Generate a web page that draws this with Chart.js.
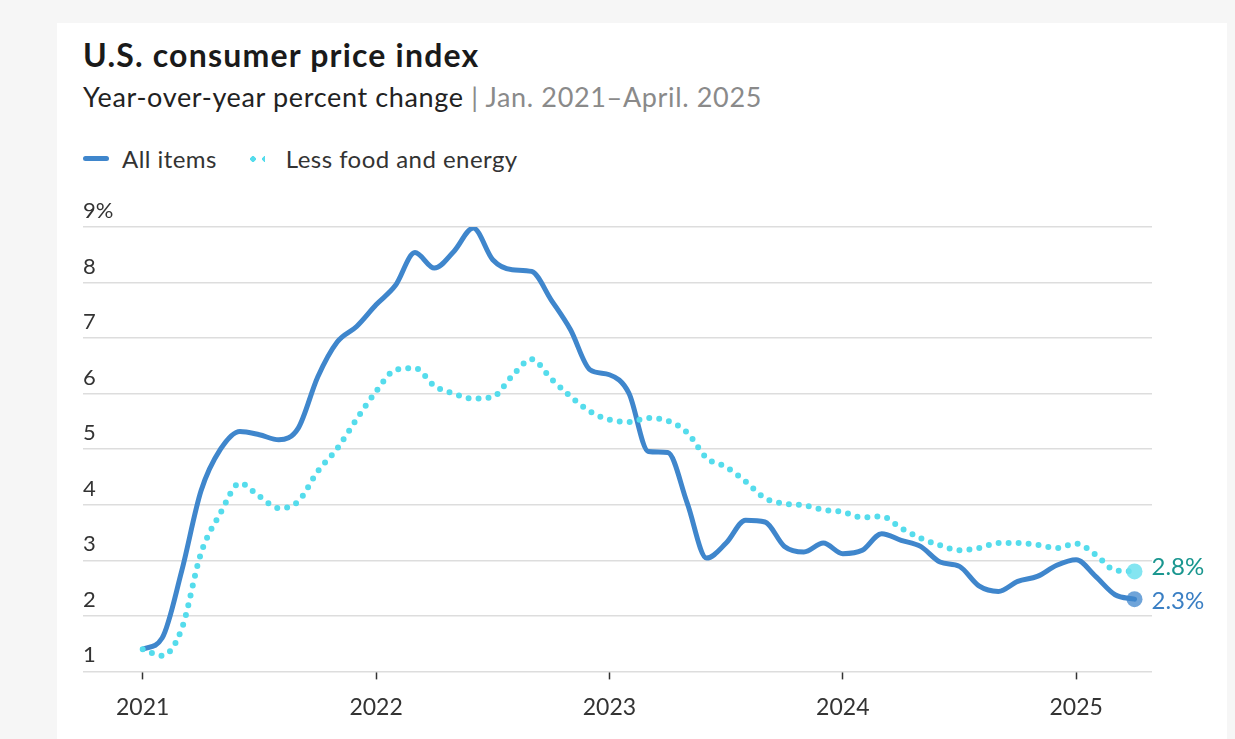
<!DOCTYPE html>
<html lang="en">
<head>
  <meta charset="UTF-8" />
  <title>U.S. consumer price index</title>
  <style>
    body {
      margin: 0;
      width: 1235px;
      height: 739px;
      overflow: hidden;
      background: #f6f6f6;
      font-family: Lato, sans-serif;
      color: #222;
      position: relative;
    }
    .card {
      position: absolute;
      left: 57px;
      top: 23px;
      width: 1170px;
      height: 760px;
      background: #fff;
    }
    h1 {
      position: absolute;
      left: 83px;
      top: 35px;
      margin: 0;
      font-size: 32px;
      font-weight: 700;
      color: #1a1a1a;
      letter-spacing: 1.2px;
    }
    .sub {
      position: absolute;
      left: 83px;
      top: 80px;
      font-size: 27px;
      letter-spacing: 0.65px;
      color: #222;
    }
    .sub span { color: #8a8a8a; }
    .legend {
      position: absolute;
      left: 83px;
      top: 144px;
      font-size: 24px;
      letter-spacing: 0.45px;
      color: #333;
      display: flex;
      align-items: center;
    }
    .swatch-line {
      display: inline-block;
      width: 26px;
      height: 5px;
      border-radius: 3px;
      background: #3f86cc;
      margin-right: 13px;
    }
    .swatch-dots {
      display: inline-block;
      margin: 0 21px 0 30px;
      width: 18px;
      height: 6px;
      background: radial-gradient(circle, #55dcec 2.6px, transparent 3px) 0 0 / 12px 6px repeat-x;
    }
    #wrap {
      position: absolute;
      left: 0;
      top: 195px;
      width: 1235px;
      height: 546px;
    }
  </style>
</head>
<body>
  <div class="card"></div>
  <h1>U.S. consumer price index</h1>
  <div class="sub">Year-over-year percent change <span>| Jan. 2021–April. 2025</span></div>
  <div class="legend">
    <span class="swatch-line"></span>All items
    <span class="swatch-dots"></span>Less food and energy
  </div>
  <div id="wrap"><canvas id="cpi"></canvas></div>

  <script src="https://cdn.jsdelivr.net/npm/chart.js"></script>
  <script>
    // months since Jan. 2021 (0 .. 51 = April 2025)
    const allItems = [
      1.4, 1.6, 2.8, 4.25, 5.0, 5.32, 5.26, 5.17, 5.38, 6.3, 6.93, 7.21,
      7.6, 7.95, 8.54, 8.26, 8.56, 8.98, 8.41, 8.23, 8.2, 7.69, 7.15, 6.43,
      6.34, 6.01, 4.96, 4.94, 4.03, 3.04, 3.31, 3.72, 3.69, 3.25, 3.15, 3.31,
      3.12, 3.18, 3.48, 3.36, 3.25, 2.97, 2.89, 2.54, 2.44, 2.62, 2.71, 2.91,
      3.01, 2.71, 2.38, 2.3
    ];
    const lessFoodEnergy = [
      1.4, 1.28, 1.76, 3.13, 3.85, 4.39, 4.15, 3.94, 4.06, 4.6, 5.01, 5.54,
      6.04, 6.43, 6.46, 6.14, 6.0, 5.91, 5.94, 6.32, 6.62, 6.27, 5.95, 5.68,
      5.53, 5.49, 5.56, 5.51, 5.3, 4.84, 4.68, 4.42, 4.12, 4.02, 3.99, 3.91,
      3.87, 3.77, 3.79, 3.58, 3.4, 3.27, 3.18, 3.22, 3.31, 3.31, 3.28, 3.22,
      3.3, 3.1, 2.82, 2.8
    ];
    const yearTicks = [0, 12, 24, 36, 48];
    const yearLabels = ['2021', '2022', '2023', '2024', '2025'];
    const yTicks = [1, 2, 3, 4, 5, 6, 7, 8, 9];
    const yLabels = ['1', '2', '3', '4', '5', '6', '7', '8', '9%'];

    const BLUE = '#3f86cc';
    const CYAN = '#55dcec';
    const last = allItems.length - 1;

    const toPoints = arr => arr.map((v, i) => ({ x: i, y: v }));

    // end-of-line value labels
    const endLabels = {
      id: 'endLabels',
      afterDatasetsDraw(chart) {
        const { ctx, scales: { x, y } } = chart;
        const px = x.getPixelForValue(last);
        ctx.save();
        ctx.font = '24px Lato, sans-serif';
        ctx.textBaseline = 'middle';
        ctx.textAlign = 'left';
        ctx.fillStyle = '#1a968f';
        ctx.fillText(lessFoodEnergy[last].toFixed(1) + '%', px + 17, y.getPixelForValue(lessFoodEnergy[last]) - 4);
        ctx.fillStyle = '#3a7fc4';
        ctx.fillText(allItems[last].toFixed(1) + '%', px + 17, y.getPixelForValue(allItems[last]) + 2);
        ctx.restore();
      }
    };

    new Chart(document.getElementById('cpi'), {
      type: 'line',
      data: {
        datasets: [
          {
            label: 'Less food and energy',
            data: toPoints(lessFoodEnergy),
            borderColor: CYAN,
            borderWidth: 6,
            borderDash: [0, 10],
            borderCapStyle: 'round',
            cubicInterpolationMode: 'monotone',
            pointRadius: c => c.dataIndex === last ? 8 : 0,
            pointBackgroundColor: 'rgba(110, 225, 238, 0.85)',
            pointBorderWidth: 0
          },
          {
            label: 'All items',
            data: toPoints(allItems),
            borderColor: BLUE,
            borderWidth: 5,
            borderCapStyle: 'round',
            borderJoinStyle: 'round',
            cubicInterpolationMode: 'monotone',
            pointRadius: c => c.dataIndex === last ? 8 : 0,
            pointBackgroundColor: 'rgba(63, 134, 204, 0.75)',
            pointBorderWidth: 0
          }
        ]
      },
      options: {
        responsive: true,
        maintainAspectRatio: false,
        animation: false,
        layout: { padding: { left: 83, right: 83, top: 32, bottom: 6 } },
        plugins: {
          legend: { display: false },
          tooltip: { enabled: false }
        },
        scales: {
          x: {
            type: 'linear',
            min: -3.07,
            max: 51.9,
            afterBuildTicks: axis => { axis.ticks = yearTicks.map(v => ({ value: v })); },
            ticks: {
              callback: (v, i) => yearLabels[i],
              font: { family: 'Lato', size: 23 },
              color: '#333',
              padding: 14,
              maxRotation: 0,
              autoSkip: false
            },
            grid: { drawOnChartArea: false, tickLength: 8, tickColor: '#333', tickWidth: 1.5 },
            border: { display: false }
          },
          y: {
            min: 1,
            max: 9,
            afterBuildTicks: axis => { axis.ticks = yTicks.map(v => ({ value: v })); },
            ticks: {
              mirror: true,
              padding: 0,
              labelOffset: -16,
              callback: (v, i) => yLabels[i],
              font: { family: 'Lato', size: 22 },
              color: '#333'
            },
            grid: { color: '#dddddd', lineWidth: 1.5, drawTicks: false },
            border: { display: false }
          }
        }
      },
      plugins: [endLabels]
    });
  </script>
</body>
</html>
